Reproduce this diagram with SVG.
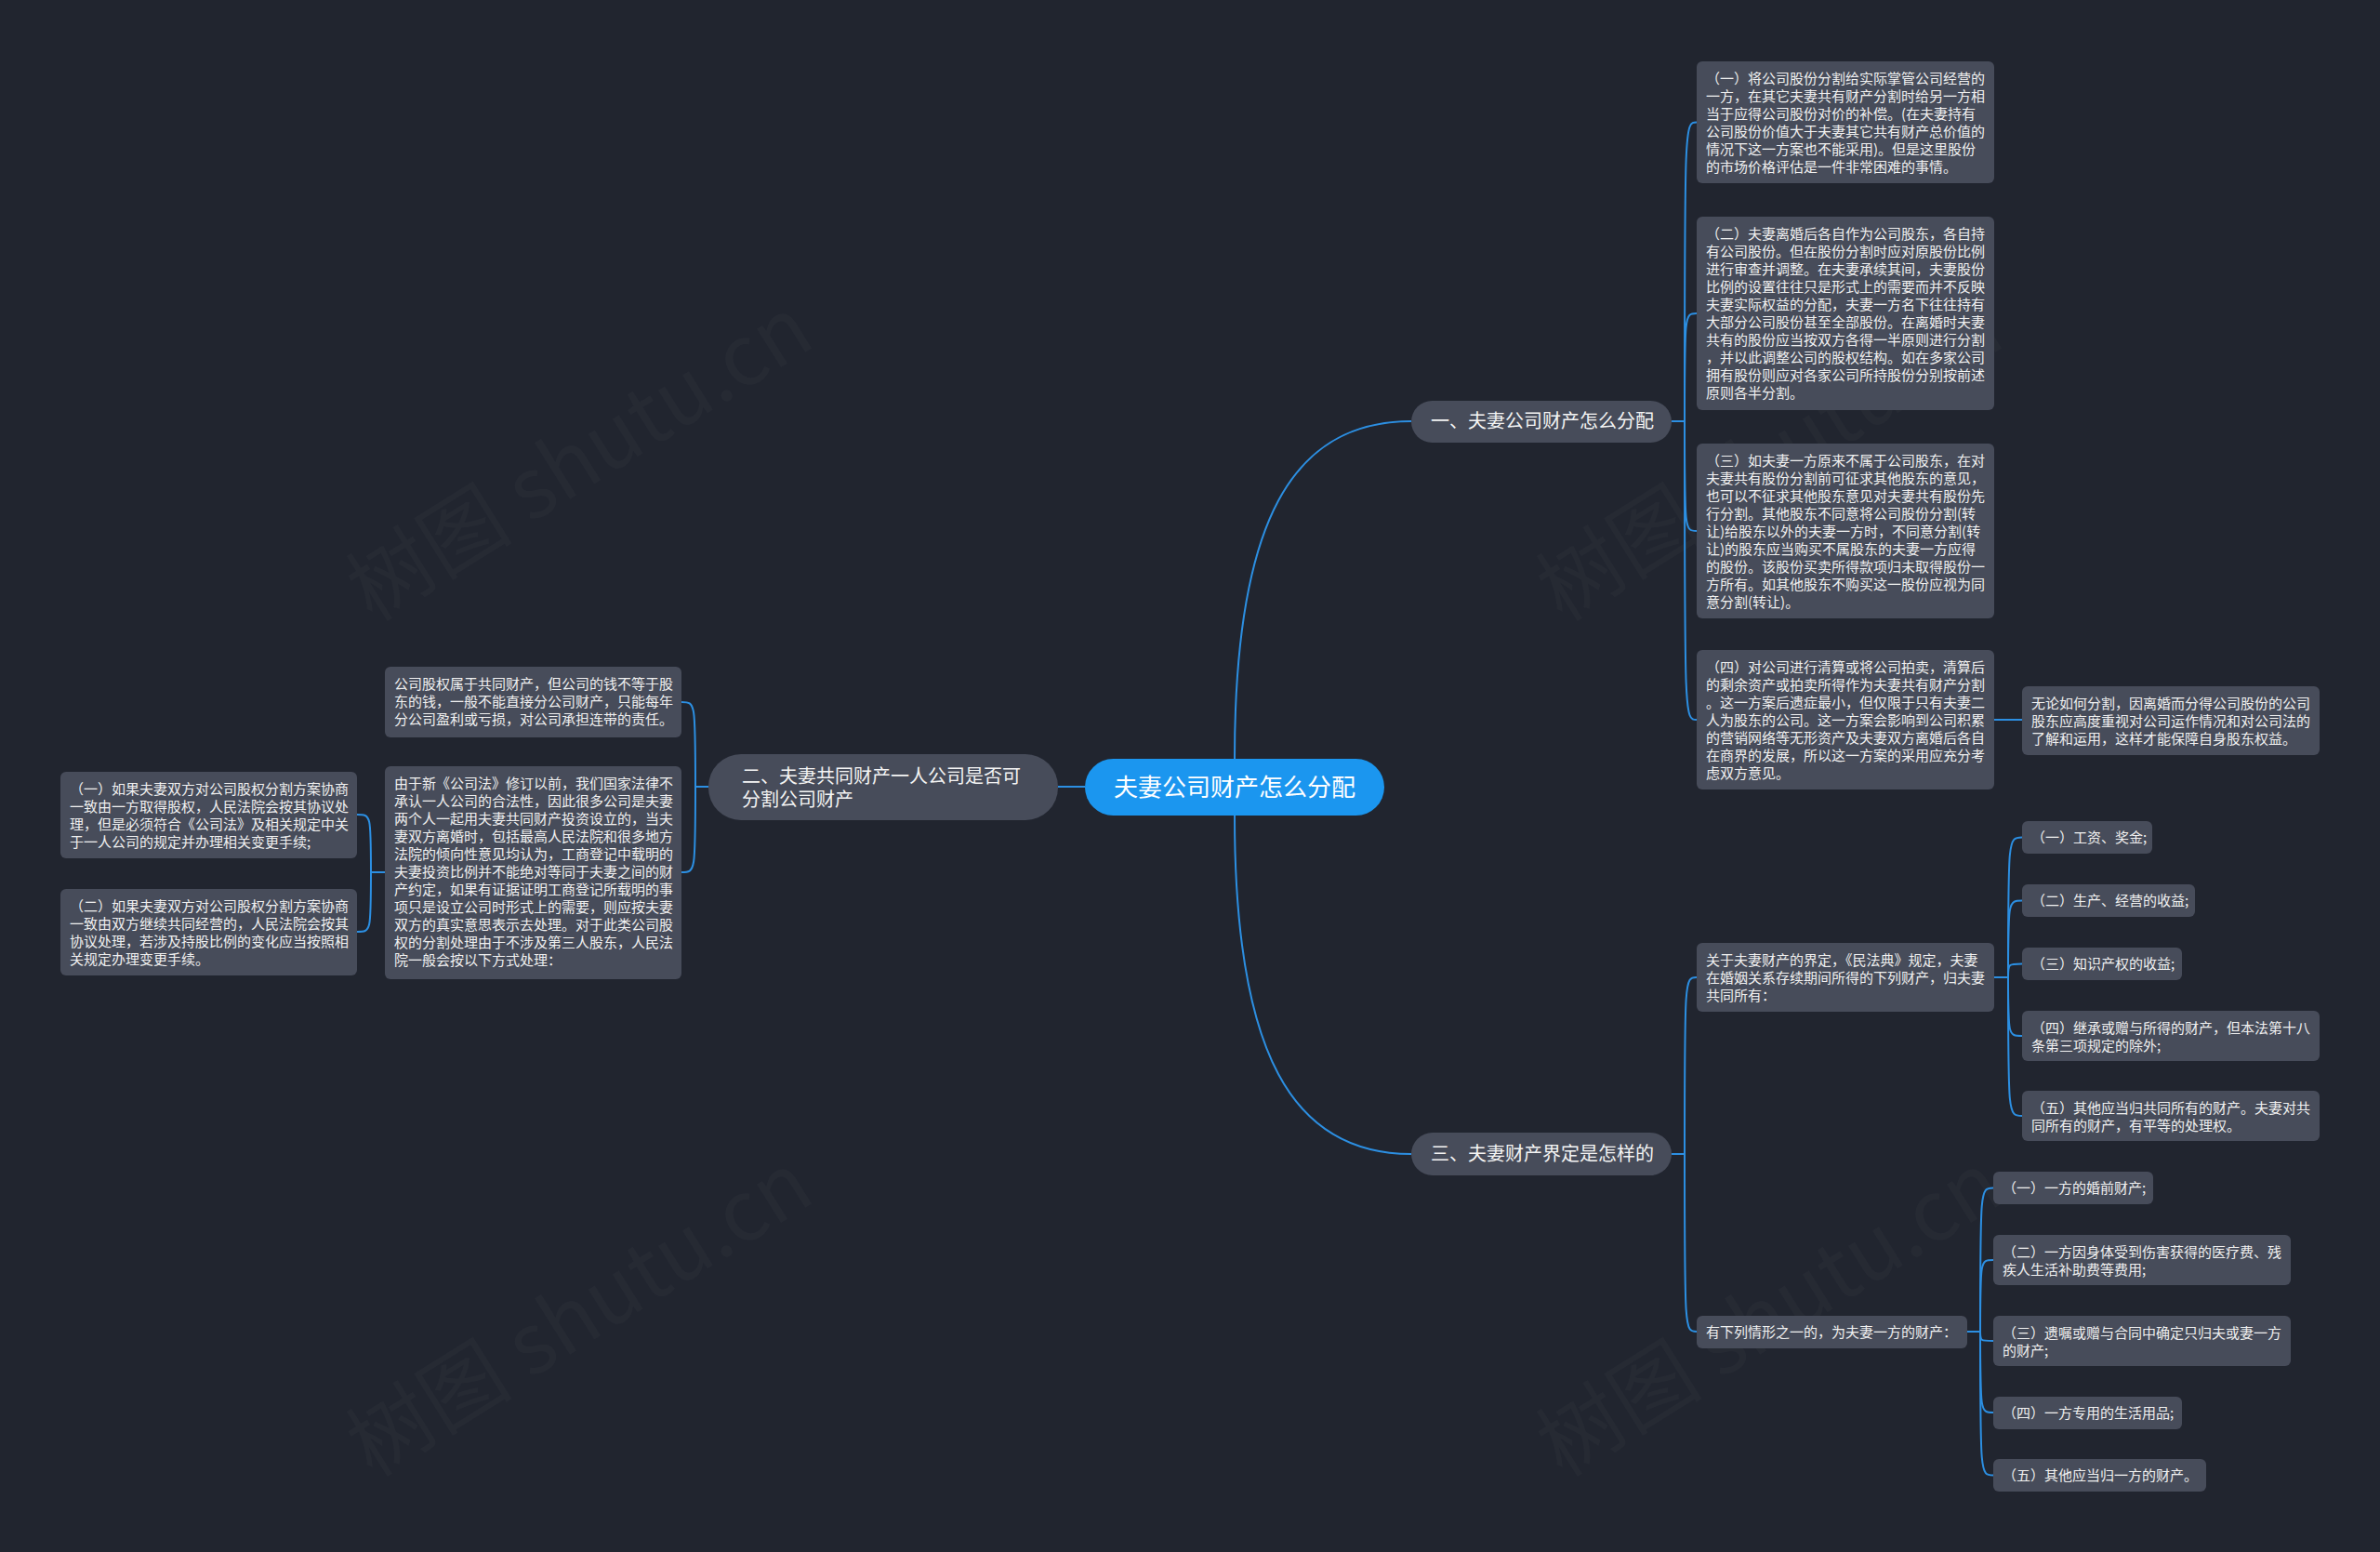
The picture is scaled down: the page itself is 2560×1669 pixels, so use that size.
<svg xmlns="http://www.w3.org/2000/svg" width="2560" height="1669" viewBox="0 0 2560 1669">
<style>
.bg{fill:#21252f}
.n{fill:#474c5a}
.t{fill:#f0f0f0;font-family:"Noto Sans CJK SC","Noto Sans",sans-serif;font-size:15px}
.bt{fill:#f4f4f4;font-family:"Noto Sans CJK SC","Noto Sans",sans-serif;font-size:20px}
.rt{fill:#ffffff;font-family:"Noto Sans CJK SC","Noto Sans",sans-serif;font-size:26px}
.c{fill:none;stroke:#2c8fe2;stroke-width:2}
.wm{fill:#ffffff;fill-opacity:0.025;font-family:"Noto Sans CJK SC","Liberation Serif",serif;font-size:90px}
</style>
<rect class="bg" x="0" y="0" width="2560" height="1669"/>
<g id="watermark">
<text class="wm" x="640" y="520" text-anchor="middle" transform="rotate(-32 640 520)">树图 shutu.cn</text>
<text class="wm" x="1920" y="520" text-anchor="middle" transform="rotate(-32 1920 520)">树图 shutu.cn</text>
<text class="wm" x="640" y="1440" text-anchor="middle" transform="rotate(-32 640 1440)">树图 shutu.cn</text>
<text class="wm" x="1920" y="1440" text-anchor="middle" transform="rotate(-32 1920 1440)">树图 shutu.cn</text>
</g>
<g id="connectors">
<path class="c" d="M1328,816 C1328,560 1390,453 1518,453"/>
<path class="c" d="M1328,877 C1328,1133 1390,1241 1518,1241"/>
<path class="c" d="M1167,846 H1138"/>
<path class="c" d="M1798,453 H1812 C1812,131.5 1812,131.5 1825,131.5"/>
<path class="c" d="M1798,453 H1812 C1812,337 1812,337 1825,337"/>
<path class="c" d="M1798,453 H1812 C1812,571 1812,571 1825,571"/>
<path class="c" d="M1798,453 H1812 C1812,774 1812,774 1825,774"/>
<path class="c" d="M2145,774 H2175"/>
<path class="c" d="M1798,1241 H1812 C1812,1051 1812,1051 1825,1051"/>
<path class="c" d="M1798,1241 H1812 C1812,1432 1812,1432 1825,1432"/>
<path class="c" d="M2145,1051 H2160 C2160,900.5 2160,900.5 2175,900.5"/>
<path class="c" d="M2145,1051 H2160 C2160,968.5 2160,968.5 2175,968.5"/>
<path class="c" d="M2145,1051 H2160 C2160,1036.5 2160,1036.5 2175,1036.5"/>
<path class="c" d="M2145,1051 H2160 C2160,1114 2160,1114 2175,1114"/>
<path class="c" d="M2145,1051 H2160 C2160,1200 2160,1200 2175,1200"/>
<path class="c" d="M2116,1432 H2130 C2130,1277.5 2130,1277.5 2144,1277.5"/>
<path class="c" d="M2116,1432 H2130 C2130,1355 2130,1355 2144,1355"/>
<path class="c" d="M2116,1432 H2130 C2130,1442 2130,1442 2144,1442"/>
<path class="c" d="M2116,1432 H2130 C2130,1519 2130,1519 2144,1519"/>
<path class="c" d="M2116,1432 H2130 C2130,1586.5 2130,1586.5 2144,1586.5"/>
<path class="c" d="M762,846 H748 C748,755 748,755 733,755"/>
<path class="c" d="M762,846 H748 C748,938 748,938 733,938"/>
<path class="c" d="M414,938 H399 C399,876 399,876 384,876"/>
<path class="c" d="M414,938 H399 C399,1002 399,1002 384,1002"/>
</g>
<g id="root">
<rect x="1167" y="816" width="322" height="61" rx="30.5" fill="#1b96ef"/>
<text class="rt" x="1328" y="856" text-anchor="middle">夫妻公司财产怎么分配</text>
</g>
<g id="b1">
<rect class="n" x="1518" y="431" width="280" height="45" rx="22.5"/>
<text class="bt" x="1539" y="460">一、夫妻公司财产怎么分配</text>
</g>
<g id="b2">
<rect class="n" x="762" y="811" width="376" height="71" rx="35"/>
<text class="bt" x="798" y="842">二、夫妻共同财产一人公司是否可</text>
<text class="bt" x="798" y="867">分割公司财产</text>
</g>
<g id="b3">
<rect class="n" x="1518" y="1218" width="280" height="46" rx="23"/>
<text class="bt" x="1539" y="1248">三、夫妻财产界定是怎样的</text>
</g>
<g id="c11">
<rect class="n" x="1825" y="66" width="320" height="131" rx="6"/>
<text class="t" x="1835" y="89.5"><tspan x="1835">（一）将公司股份分割给实际掌管公司经营的</tspan><tspan x="1835" dy="19">一方，在其它夫妻共有财产分割时给另一方相</tspan><tspan x="1835" dy="19">当于应得公司股份对价的补偿。(在夫妻持有</tspan><tspan x="1835" dy="19">公司股份价值大于夫妻其它共有财产总价值的</tspan><tspan x="1835" dy="19">情况下这一方案也不能采用)。但是这里股份</tspan><tspan x="1835" dy="19">的市场价格评估是一件非常困难的事情。</tspan></text>
</g>
<g id="c12">
<rect class="n" x="1825" y="233" width="320" height="208" rx="6"/>
<text class="t" x="1835" y="256.5"><tspan x="1835">（二）夫妻离婚后各自作为公司股东，各自持</tspan><tspan x="1835" dy="19">有公司股份。但在股份分割时应对原股份比例</tspan><tspan x="1835" dy="19">进行审查并调整。在夫妻承续其间，夫妻股份</tspan><tspan x="1835" dy="19">比例的设置往往只是形式上的需要而并不反映</tspan><tspan x="1835" dy="19">夫妻实际权益的分配，夫妻一方名下往往持有</tspan><tspan x="1835" dy="19">大部分公司股份甚至全部股份。在离婚时夫妻</tspan><tspan x="1835" dy="19">共有的股份应当按双方各得一半原则进行分割</tspan><tspan x="1835" dy="19">，并以此调整公司的股权结构。如在多家公司</tspan><tspan x="1835" dy="19">拥有股份则应对各家公司所持股份分别按前述</tspan><tspan x="1835" dy="19">原则各半分割。</tspan></text>
</g>
<g id="c13">
<rect class="n" x="1825" y="477" width="320" height="188" rx="6"/>
<text class="t" x="1835" y="500.5"><tspan x="1835">（三）如夫妻一方原来不属于公司股东，在对</tspan><tspan x="1835" dy="19">夫妻共有股份分割前可征求其他股东的意见，</tspan><tspan x="1835" dy="19">也可以不征求其他股东意见对夫妻共有股份先</tspan><tspan x="1835" dy="19">行分割。其他股东不同意将公司股份分割(转</tspan><tspan x="1835" dy="19">让)给股东以外的夫妻一方时，不同意分割(转</tspan><tspan x="1835" dy="19">让)的股东应当购买不属股东的夫妻一方应得</tspan><tspan x="1835" dy="19">的股份。该股份买卖所得款项归未取得股份一</tspan><tspan x="1835" dy="19">方所有。如其他股东不购买这一股份应视为同</tspan><tspan x="1835" dy="19">意分割(转让)。</tspan></text>
</g>
<g id="c14">
<rect class="n" x="1825" y="699" width="320" height="150" rx="6"/>
<text class="t" x="1835" y="722.5"><tspan x="1835">（四）对公司进行清算或将公司拍卖，清算后</tspan><tspan x="1835" dy="19">的剩余资产或拍卖所得作为夫妻共有财产分割</tspan><tspan x="1835" dy="19">。这一方案后遗症最小，但仅限于只有夫妻二</tspan><tspan x="1835" dy="19">人为股东的公司。这一方案会影响到公司积累</tspan><tspan x="1835" dy="19">的营销网络等无形资产及夫妻双方离婚后各自</tspan><tspan x="1835" dy="19">在商界的发展，所以这一方案的采用应充分考</tspan><tspan x="1835" dy="19">虑双方意见。</tspan></text>
</g>
<g id="c141">
<rect class="n" x="2175" y="738" width="320" height="74" rx="6"/>
<text class="t" x="2185" y="761.5"><tspan x="2185">无论如何分割，因离婚而分得公司股份的公司</tspan><tspan x="2185" dy="19">股东应高度重视对公司运作情况和对公司法的</tspan><tspan x="2185" dy="19">了解和运用，这样才能保障自身股东权益。</tspan></text>
</g>
<g id="c31">
<rect class="n" x="1825" y="1014" width="320" height="74" rx="6"/>
<text class="t" x="1835" y="1037.5"><tspan x="1835">关于夫妻财产的界定，《民法典》规定，夫妻</tspan><tspan x="1835" dy="19">在婚姻关系存续期间所得的下列财产，归夫妻</tspan><tspan x="1835" dy="19">共同所有：</tspan></text>
</g>
<g id="c311">
<rect class="n" x="2175" y="883" width="140" height="35" rx="6"/>
<text class="t" x="2185" y="906">（一）工资、奖金;</text>
</g>
<g id="c312">
<rect class="n" x="2175" y="951" width="186" height="35" rx="6"/>
<text class="t" x="2185" y="974">（二）生产、经营的收益;</text>
</g>
<g id="c313">
<rect class="n" x="2175" y="1019" width="172" height="35" rx="6"/>
<text class="t" x="2185" y="1042">（三）知识产权的收益;</text>
</g>
<g id="c314">
<rect class="n" x="2175" y="1087" width="320" height="54" rx="6"/>
<text class="t" x="2185" y="1110.5"><tspan x="2185">（四）继承或赠与所得的财产，但本法第十八</tspan><tspan x="2185" dy="19">条第三项规定的除外;</tspan></text>
</g>
<g id="c315">
<rect class="n" x="2175" y="1173" width="320" height="54" rx="6"/>
<text class="t" x="2185" y="1196.5"><tspan x="2185">（五）其他应当归共同所有的财产。夫妻对共</tspan><tspan x="2185" dy="19">同所有的财产，有平等的处理权。</tspan></text>
</g>
<g id="c32">
<rect class="n" x="1825" y="1415" width="291" height="35" rx="6"/>
<text class="t" x="1835" y="1438">有下列情形之一的，为夫妻一方的财产：</text>
</g>
<g id="c321">
<rect class="n" x="2144" y="1260" width="172" height="35" rx="6"/>
<text class="t" x="2154" y="1283">（一）一方的婚前财产;</text>
</g>
<g id="c322">
<rect class="n" x="2144" y="1328" width="320" height="54" rx="6"/>
<text class="t" x="2154" y="1351.5"><tspan x="2154">（二）一方因身体受到伤害获得的医疗费、残</tspan><tspan x="2154" dy="19">疾人生活补助费等费用;</tspan></text>
</g>
<g id="c323">
<rect class="n" x="2144" y="1415" width="320" height="54" rx="6"/>
<text class="t" x="2154" y="1438.5"><tspan x="2154">（三）遗嘱或赠与合同中确定只归夫或妻一方</tspan><tspan x="2154" dy="19">的财产;</tspan></text>
</g>
<g id="c324">
<rect class="n" x="2144" y="1502" width="203" height="35" rx="6"/>
<text class="t" x="2154" y="1525">（四）一方专用的生活用品;</text>
</g>
<g id="c325">
<rect class="n" x="2144" y="1569" width="229" height="35" rx="6"/>
<text class="t" x="2154" y="1592">（五）其他应当归一方的财产。</text>
</g>
<g id="cA">
<rect class="n" x="414" y="717" width="319" height="76" rx="6"/>
<text class="t" x="424" y="741"><tspan x="424">公司股权属于共同财产，但公司的钱不等于股</tspan><tspan x="424" dy="19">东的钱，一般不能直接分公司财产，只能每年</tspan><tspan x="424" dy="19">分公司盈利或亏损，对公司承担连带的责任。</tspan></text>
</g>
<g id="cB">
<rect class="n" x="414" y="824" width="319" height="229" rx="6"/>
<text class="t" x="424" y="847.5"><tspan x="424">由于新《公司法》修订以前，我们国家法律不</tspan><tspan x="424" dy="19">承认一人公司的合法性，因此很多公司是夫妻</tspan><tspan x="424" dy="19">两个人一起用夫妻共同财产投资设立的，当夫</tspan><tspan x="424" dy="19">妻双方离婚时，包括最高人民法院和很多地方</tspan><tspan x="424" dy="19">法院的倾向性意见均认为，工商登记中载明的</tspan><tspan x="424" dy="19">夫妻投资比例并不能绝对等同于夫妻之间的财</tspan><tspan x="424" dy="19">产约定，如果有证据证明工商登记所载明的事</tspan><tspan x="424" dy="19">项只是设立公司时形式上的需要，则应按夫妻</tspan><tspan x="424" dy="19">双方的真实意思表示去处理。对于此类公司股</tspan><tspan x="424" dy="19">权的分割处理由于不涉及第三人股东，人民法</tspan><tspan x="424" dy="19">院一般会按以下方式处理：</tspan></text>
</g>
<g id="cB1">
<rect class="n" x="65" y="830" width="319" height="93" rx="6"/>
<text class="t" x="75" y="853.5"><tspan x="75">（一）如果夫妻双方对公司股权分割方案协商</tspan><tspan x="75" dy="19">一致由一方取得股权，人民法院会按其协议处</tspan><tspan x="75" dy="19">理，但是必须符合《公司法》及相关规定中关</tspan><tspan x="75" dy="19">于一人公司的规定并办理相关变更手续;</tspan></text>
</g>
<g id="cB2">
<rect class="n" x="65" y="956" width="319" height="93" rx="6"/>
<text class="t" x="75" y="979.5"><tspan x="75">（二）如果夫妻双方对公司股权分割方案协商</tspan><tspan x="75" dy="19">一致由双方继续共同经营的，人民法院会按其</tspan><tspan x="75" dy="19">协议处理，若涉及持股比例的变化应当按照相</tspan><tspan x="75" dy="19">关规定办理变更手续。</tspan></text>
</g>
</svg>
